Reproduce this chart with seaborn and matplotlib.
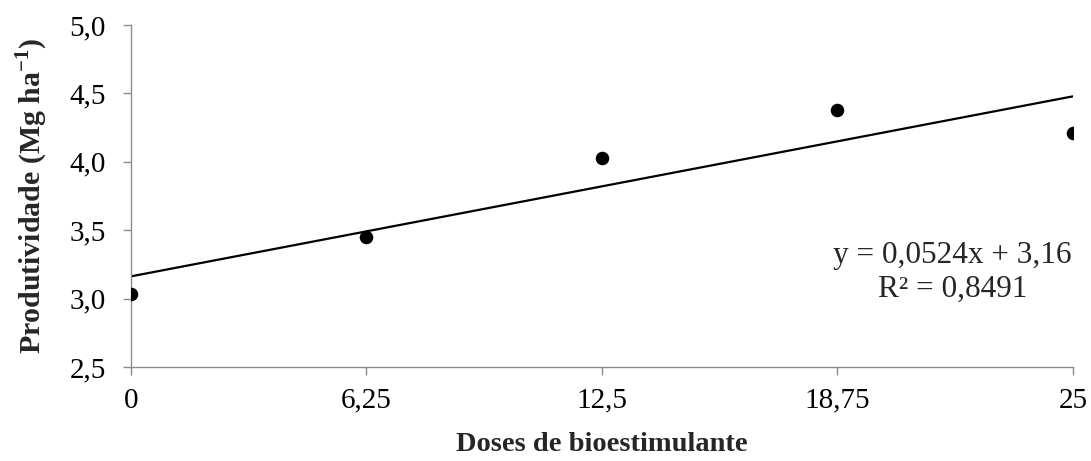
import seaborn as sns
import pandas as pd
import numpy as np
import matplotlib.pyplot as plt

# Data
doses = [0, 6.25, 12.5, 18.75, 25]
produtividade = [3.03, 3.45, 4.03, 4.38, 4.21]
x_tick_labels = ["0", "6,25", "12,5", "18,75", "25"]
y_ticks = [2.5, 3.0, 3.5, 4.0, 4.5, 5.0]
equation = "y = 0,0524x + 3,16\nR² = 0,8491"

data = pd.DataFrame({"dose": doses, "prod": produtividade})

sns.set_theme(style="white")
plt.rcParams["font.family"] = ["Liberation Serif", "DejaVu Serif"]
plt.rcParams["mathtext.fontset"] = "custom"
plt.rcParams["mathtext.rm"] = "Liberation Serif:bold"
plt.rcParams["mathtext.bf"] = "Liberation Serif:bold"

fig = plt.figure(figsize=(10.91, 4.61), dpi=100)
ax = fig.add_axes([0.120, 0.204, 0.8635, 0.742])

sns.regplot(data=data, x="dose", y="prod", ax=ax, ci=None, truncate=True,
            scatter_kws={"s": 95, "color": "black", "alpha": 1, "zorder": 3, "linewidths": 0},
            line_kws={"color": "black", "linewidth": 1.6})

ax.set_xlim(0, 25)
ax.set_ylim(2.5, 5.0)
ax.set_xticks(doses)
ax.set_xticklabels(x_tick_labels)
ax.set_yticks(y_ticks)
ax.set_yticklabels([f"{v:.1f}".replace(".", ",") for v in y_ticks])

for side in ["top", "right"]:
    ax.spines[side].set_visible(False)
for side in ["left", "bottom"]:
    ax.spines[side].set_color("#8c8c8c")
    ax.spines[side].set_linewidth(1.0)
ax.spines["bottom"].set_zorder(1)

ax.tick_params(axis="both", direction="out", length=6, width=1.0,
               color="#8c8c8c", labelsize=21, labelcolor="black")
ax.tick_params(axis="x", pad=9, bottom=True)
ax.tick_params(axis="y", pad=12, left=True)

ax.set_xlabel("Doses de bioestimulante", fontsize=20.5, fontweight="bold", labelpad=13)
ax.set_ylabel(r"Produtividade (Mg ha$^{\mathbf{-1}}$)", fontsize=21.5, fontweight="bold", labelpad=14)

ax.text(21.8, 3.19, equation, ha="center", va="center", fontsize=22.5, linespacing=1.2)

fig.savefig("out.png", dpi=100)
